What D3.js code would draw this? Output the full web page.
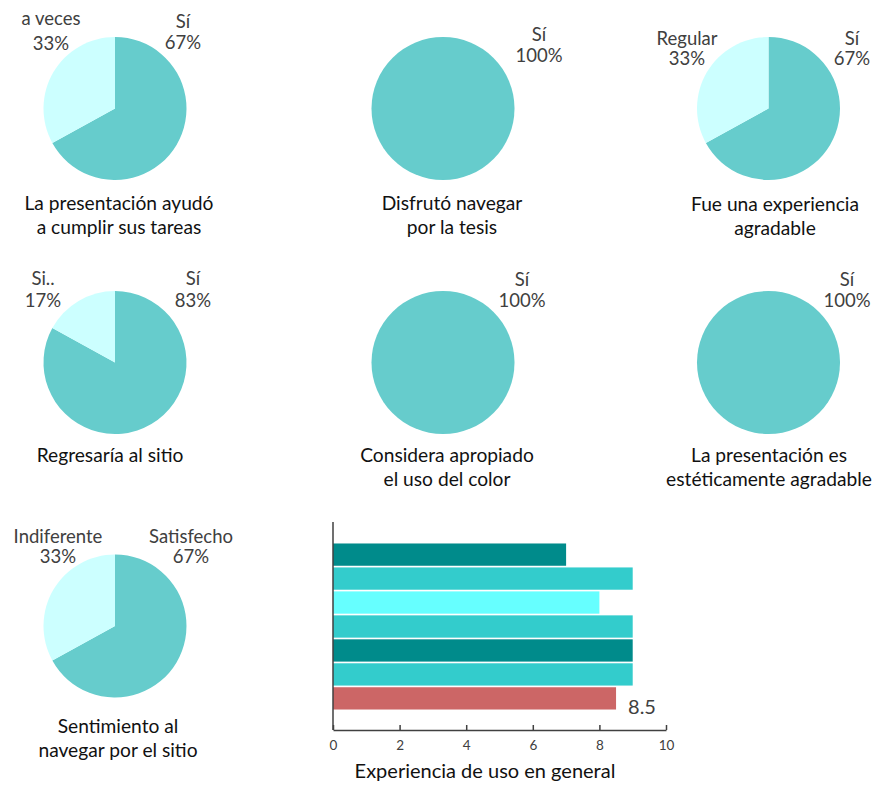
<!DOCTYPE html>
<html>
<head>
<meta charset="utf-8">
<script src="https://cdn.jsdelivr.net/npm/d3@7"></script>
<style>
  html, body { margin: 0; padding: 0; background: #fff; }
  svg { display: block; font-family: Lato, "Open Sans", sans-serif; }
</style>
</head>
<body>
<svg id="chart" width="874" height="786"></svg>
<script>
// ---------- DATA ----------
const pieTitles = [
  ["La presentación ayudó", "a cumplir sus tareas"],
  ["Disfrutó navegar", "por la tesis"],
  ["Fue una experiencia", "agradable"],
  ["Regresaría al sitio"],
  ["Considera apropiado", "el uso del color"],
  ["La presentación es", "estéticamente agradable"],
  ["Sentimiento al", "navegar por el sitio"]
];
const pieCategories = [
  ["Sí", "a veces"],
  ["Sí"],
  ["Sí", "Regular"],
  ["Sí", "Si.."],
  ["Sí"],
  ["Sí"],
  ["Satisfecho", "Indiferente"]
];
const pieValues = [
  [67, 33],
  [100],
  [67, 33],
  [83, 17],
  [100],
  [100],
  [67, 33]
];
const pieColors = ["#66CCCC", "#CCFFFF"];

const barValues = [7, 9, 8, 9, 9, 9, 8.5];
const barColors = ["#008B8B", "#33CCCC", "#66FFFF", "#33CCCC", "#008B8B", "#33CCCC", "#CC6666"];
const barTicks = [0, 2, 4, 6, 8, 10];
const barTitle = "Experiencia de uso en general";
const barAverageLabel = "8.5";

// ---------- LAYOUT ----------
// per pie: centre, title centre/baseline, label positions (centre x, first baseline, second baseline)
const pieLayout = [
  {cx: 115, cy: 108.5, tx: 119, ty: 210, labels: [[183, 28, 49], [51, 25, 50]]},
  {cx: 443, cy: 108.5, tx: 452, ty: 210, labels: [[539, 41, 62]]},
  {cx: 768.5, cy: 108.5, tx: 775, ty: 211, labels: [[852, 45, 65], [687, 45, 65]]},
  {cx: 115, cy: 362.5, tx: 110, ty: 462, labels: [[193, 285, 307], [43, 285, 307]]},
  {cx: 443, cy: 362.5, tx: 447, ty: 462, labels: [[522, 286, 307]]},
  {cx: 768.5, cy: 362.5, tx: 769, ty: 462, labels: [[847, 286, 307]]},
  {cx: 115, cy: 626, tx: 118, ty: 733, labels: [[191, 543, 563], [58, 543, 563]]}
];
const R = 71.5;
const titleLine = 24;

const svg = d3.select("#chart");

const pie = d3.pie().sort(null).value(d => d);
const arc = d3.arc().innerRadius(0).outerRadius(R);

pieValues.forEach((vals, i) => {
  const L = pieLayout[i];
  const g = svg.append("g").attr("transform", `translate(${L.cx},${L.cy})`);
  g.selectAll("path")
    .data(pie(vals))
    .join("path")
    .attr("d", arc)
    .attr("fill", (d, j) => pieColors[j]);

  // labels
  vals.forEach((v, j) => {
    const p = L.labels[j];
    const t = svg.append("text")
      .attr("text-anchor", "middle")
      .attr("fill", "#404040")
      .attr("font-size", 18.5);
    t.append("tspan").attr("x", p[0]).attr("y", p[1]).text(pieCategories[i][j]);
    t.append("tspan").attr("x", p[0]).attr("y", p[2]).text(v + "%");
  });

  // title
  const tt = svg.append("text")
    .attr("text-anchor", "middle")
    .attr("fill", "#111")
    .attr("font-size", 19.2);
  pieTitles[i].forEach((line, k) => {
    tt.append("tspan").attr("x", L.tx).attr("y", L.ty + k * titleLine).text(line);
  });
});

// ---------- BAR CHART ----------
const x = d3.scaleLinear().domain([0, 10]).range([333, 666]);
const y = d3.scaleBand()
  .domain(d3.range(barValues.length))
  .range([543, 710])
  .paddingInner(0.07)
  .paddingOuter(0.02);

svg.append("g")
  .selectAll("rect")
  .data(barValues)
  .join("rect")
  .attr("x", x(0))
  .attr("y", (d, i) => y(i))
  .attr("width", d => x(d) - x(0))
  .attr("height", y.bandwidth())
  .attr("fill", (d, i) => barColors[i]);

// y axis line
svg.append("line")
  .attr("x1", x(0)).attr("x2", x(0))
  .attr("y1", 522).attr("y2", 730)
  .attr("stroke", "#404040").attr("stroke-width", 1.5);

// x axis
const xAxis = d3.axisBottom(x).tickValues(barTicks).tickSize(-5).tickSizeOuter(0).tickPadding(10);
const ax = svg.append("g").attr("transform", "translate(0,730)").call(xAxis);
ax.select(".domain").attr("stroke", "#404040").attr("stroke-width", 1.5);
ax.selectAll(".tick line").attr("stroke", "#404040").attr("stroke-width", 1.5);
ax.selectAll(".tick text")
  .attr("fill", "#404040")
  .attr("font-size", 13.5)
  .attr("font-family", "Lato, sans-serif");

// average label
svg.append("text")
  .attr("x", x(barValues[6]) + 12)
  .attr("y", y(6) + y.bandwidth() + 4)
  .attr("fill", "#404040")
  .attr("font-size", 20)
  .text(barAverageLabel);

svg.append("text")
  .attr("x", 485).attr("y", 778)
  .attr("text-anchor", "middle")
  .attr("fill", "#111")
  .attr("font-size", 20)
  .text(barTitle);
</script>
</body>
</html>
